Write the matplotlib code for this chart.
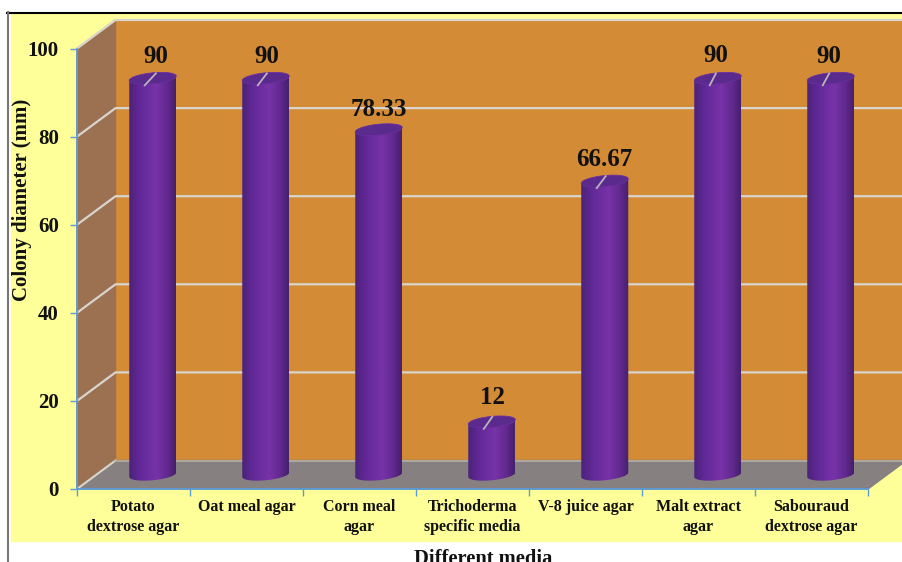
import numpy as np
import matplotlib
matplotlib.use("Agg")
import matplotlib.pyplot as plt
from matplotlib.colors import LinearSegmentedColormap
from matplotlib.lines import Line2D
from matplotlib.patches import Polygon, Rectangle

media = ["Potato\ndextrose agar", "Oat meal agar", "Corn meal\nagar",
         "Trichoderma\nspecific media", "V-8 juice agar", "Malt extract\nagar",
         "Sabouraud\ndextrose agar"]
diameter = [90, 90, 78.33, 12, 66.67, 90, 90]
y_ticks = [0, 20, 40, 60, 80, 100]

# pixel nudges of the value labels and of the leader line tips (None = no leader)
label_shift = [3.5, 1.2, 0, 0.5, 0, -2, -2]
label_lift = [22, 22, 20, 24, 22, 23, 22]
leader_tip = [3.2, 1.2, None, 0.5, 1, -1.8, -1.5]

W, H = 903, 562
plt.rcParams["font.family"] = ["Liberation Serif", "DejaVu Serif"]
plt.rcParams["font.weight"] = "bold"

fig = plt.figure(figsize=(W / 100, H / 100), dpi=100, facecolor="white")

# yellow chart area with its frame
fig.add_artist(Rectangle((11 / W, 1 - 541 / H), (W - 11) / W, 528 / H, color="#FFFF99",
                         transform=fig.transFigure, zorder=-5))
fig.add_artist(Line2D([7 / W, 1], [1 - 12.5 / H] * 2, color="black", lw=1.5, transform=fig.transFigure))
fig.add_artist(Line2D([7.5 / W] * 2, [0, 1 - 12 / H], color="#777777", lw=1.5, transform=fig.transFigure))

# axes cover the front plane of the 3D box
ax = fig.add_axes([77 / W, 1 - 489 / H, 791 / W, 440.5 / H])
ax.patch.set_alpha(0)
ax.set_xlim(0, 7)
ax.set_ylim(0, 100)

px_x = 7 / 791
px_y = 100 / 440.5
dx = 38.5 * px_x
dy = 28.5 * px_y

# back wall, side wall and floor
ax.add_patch(Polygon([(dx, dy), (8, dy), (8, 100 + dy), (dx, 100 + dy)], color="#D48B36", clip_on=False, zorder=1))
ax.add_patch(Polygon([(0, 0), (dx, dy), (dx, 100 + dy), (0, 100)], color="#9C7152", clip_on=False, zorder=1))
ax.add_patch(Polygon([(0, 0), (7, 0), (7 + dx, dy), (dx, dy)], color="#878080", clip_on=False, zorder=1))

# gridlines run along the side wall and across the back wall
grid_col = "#D8D5CE"
for v in y_ticks:
    if v == 0:
        ax.plot([0, dx], [0, dy], color=grid_col, lw=1.5, clip_on=False, zorder=2)
        ax.plot([dx, 8], [dy, dy], color="#B5AFA5", lw=1.2, clip_on=False, zorder=2)
    else:
        ax.plot([0, dx, 8], [v, v + dy, v + dy], color=grid_col, lw=1.6, clip_on=False, zorder=2)

# cylinders: horizontal gradient clipped to the body outline, tilted lid on top
shade = LinearSegmentedColormap.from_list(
    "shade", [(0, "#4B2378"), (0.25, "#63299A"), (0.58, "#7733A8"), (0.82, "#62298F"), (1, "#45206B")])
gradient = np.linspace(0, 1, 128).reshape(1, -1)
half_w = 23.5 * px_x
half_h = 5.5 * px_y
tilt = 2.2 * px_y


def ellipse_pts(cx, cy, t):
    return np.column_stack([cx + half_w * np.cos(t), cy + half_h * np.sin(t) + tilt * np.cos(t)])


for i, val in enumerate(diameter):
    cx = i + 0.5 + dx / 2
    base = dy / 2
    top = val + dy / 2
    lower = ellipse_pts(cx, base, np.linspace(np.pi, 2 * np.pi, 40))
    upper = ellipse_pts(cx, top, np.array([0, np.pi]))
    body = Polygon(np.vstack([lower, upper]), closed=True, fc="none", ec="none", zorder=3)
    ax.add_patch(body)
    im = ax.imshow(gradient, cmap=shade, aspect="auto", zorder=3, interpolation="bilinear",
                   extent=[cx - half_w, cx + half_w, base - 3 * half_h, top + 3 * half_h])
    im.set_clip_path(body)
    lid = ellipse_pts(cx, top, np.linspace(0, 2 * np.pi, 60))
    ax.add_patch(Polygon(lid, closed=True, fc="#5A2A8C", ec="#6A2FA0", lw=0.6, zorder=4))

    # leader line from the lid up to the value label
    if leader_tip[i] is not None:
        ax.plot([cx - 8 * px_x, cx + leader_tip[i] * px_x], [top - 7 * px_y, top + 5 * px_y],
                color="#B9B4BC", lw=1.3, zorder=5)
    ax.text(cx + label_shift[i] * px_x, top + label_lift[i] * px_y, f"{val:g}", ha="center", va="center",
            fontsize=18, color="#111111", zorder=6)

ax.set_xlim(0, 7)
ax.set_ylim(0, 100)

# axis styling
for side in ["top", "right"]:
    ax.spines[side].set_visible(False)
for side in ["left", "bottom"]:
    ax.spines[side].set_color("#5B9BD5")
    ax.spines[side].set_linewidth(1.3)
    ax.spines[side].set_zorder(7)

ax.set_yticks(y_ticks)
ax.tick_params(axis="y", length=5, width=1, color="#5B9BD5", labelsize=15, pad=8, labelcolor="#111111")
ax.set_xticks(np.arange(8))
ax.set_xticklabels([])
ax.tick_params(axis="x", which="major", length=5, width=1, color="#5B9BD5")
ax.set_xticks(np.arange(7) + 0.5, minor=True)
ax.set_xticklabels(media, minor=True, fontsize=11.5, color="#111111", linespacing=1.38)
ax.tick_params(axis="x", which="minor", length=0, pad=7)

fig.text(22 / W, 1 - 200 / H, "Colony diameter (mm)", rotation=90, ha="center", va="center",
         fontsize=15, color="#111111")
fig.text(483 / W, 1 - 549 / H, "Different media", ha="center", va="top", fontsize=14.8, color="#111111")

fig.savefig("out.png", dpi=100, facecolor="white")
